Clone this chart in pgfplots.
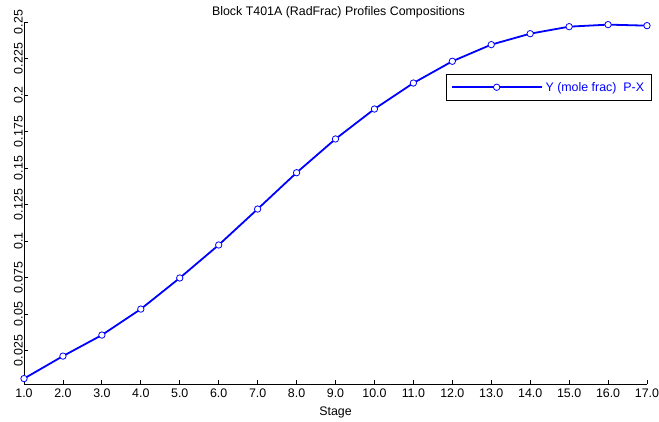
\documentclass[border=0pt]{standalone}
\usepackage{fontspec}
\setmainfont{Liberation Sans}
\usepackage{pgfplots}
\pgfplotsset{compat=1.18}
\definecolor{pblue}{RGB}{0,0,255}
\begin{document}
\begin{tikzpicture}[font=\fontsize{12.4bp}{14bp}\selectfont]
\useasboundingbox (0,0) rectangle (659bp,422bp);
\begin{axis}[
  at={(24bp,38bp)}, anchor=south west,
  scale only axis, width=623bp, height=362bp,
  xmin=1, xmax=17, ymin=0.0021, ymax=0.25,
  axis lines*=left,
  axis line style={black, line width=0.8bp},
  tick align=inside, major tick length=4bp,
  tick style={black, line width=0.8bp},
  xtick={1,2,...,17},
  xticklabels={1.0,2.0,3.0,4.0,5.0,6.0,7.0,8.0,9.0,10.0,11.0,12.0,13.0,14.0,15.0,16.0,17.0},
  ytick={0.025,0.05,0.075,0.1,0.125,0.15,0.175,0.2,0.225,0.25},
  yticklabels={0.025,0.05,0.075,0.1,0.125,0.15,0.175,0.2,0.225,0.25},
  yticklabel style={rotate=90, anchor=south, inner sep=1bp},
  xticklabel style={inner sep=2bp, yshift=-3bp},
  title={Block T401A (RadFrac) Profiles Compositions},
  title style={at={(0.5,1)}, anchor=base, yshift=1bp, xshift=3bp},
  xlabel={Stage},
  xlabel style={at={(0.5,0)}, anchor=base, yshift=-31bp},
  legend style={at={(1.008,0.856)}, anchor=north east, draw=black, line width=0.8bp,
    inner xsep=4.5bp, inner ysep=5.5bp, text=pblue, font=\fontsize{12.4bp}{14bp}\selectfont,
    nodes={inner xsep=3bp}},
  legend cell align=left,
  legend image code/.code={%
    \draw[#1,mark=none,line width=1.8bp] (0bp,0bp) -- (90bp,0bp);
    \draw[#1,only marks,line width=0.8bp] plot coordinates {(45bp,0bp)};},
]
\addplot[pblue, line width=1.8bp, mark=*, mark size=3.2bp,
  mark options={fill=white, draw=pblue, line width=0.8bp, solid}]
coordinates {
(1,0.0058) (2,0.0212) (3,0.0356) (4,0.0534) (5,0.0747) (6,0.0973)
(7,0.1219) (8,0.1468) (9,0.1699) (10,0.1904) (11,0.2082) (12,0.2231)
(13,0.2345) (14,0.2420) (15,0.2468) (16,0.2482) (17,0.2475)
};
\addlegendentry{Y (mole frac)\ \ P-X}
\end{axis}
\end{tikzpicture}
\end{document}
